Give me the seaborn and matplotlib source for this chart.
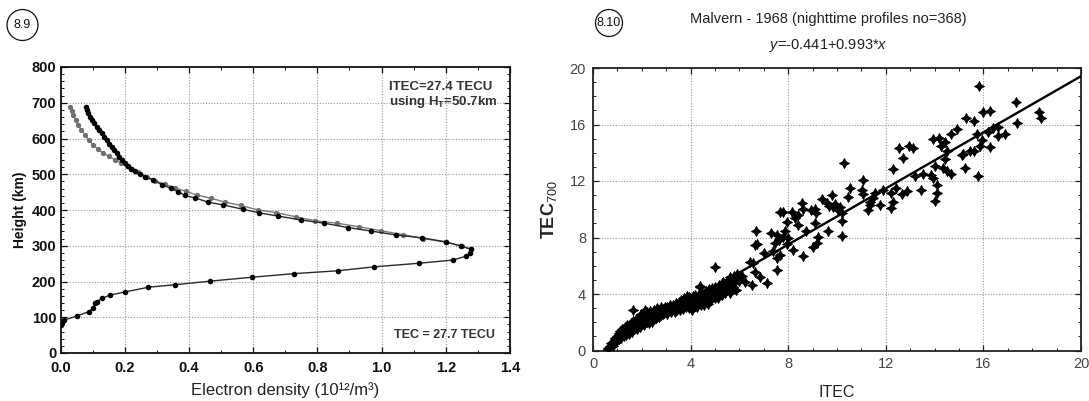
import matplotlib
matplotlib.use("Agg")
import matplotlib.pyplot as plt
from matplotlib.patches import Ellipse
from matplotlib.ticker import MultipleLocator
import seaborn as sns
import pandas as pd

# ---------------- data: left panel (electron density profiles) ----------------
black_height = [78, 84, 92, 103, 116, 125, 139, 144, 153, 162, 171, 184, 191, 201, 212, 222,
                230, 241, 251, 260, 271, 281, 290, 299, 311, 322, 330, 341, 351, 363, 372, 383,
                392, 402, 414, 422, 434, 441, 451, 461, 471, 484, 493, 501, 509, 516, 524, 532,
                540, 549, 559, 568, 577, 586, 596, 605, 614, 623, 633, 642, 652, 661, 670, 680, 689]
black_density = [0.000, 0.004, 0.011, 0.050, 0.089, 0.100, 0.107, 0.113, 0.130, 0.154, 0.202,
                 0.274, 0.358, 0.466, 0.597, 0.727, 0.864, 0.976, 1.116, 1.222, 1.264, 1.276,
                 1.279, 1.248, 1.200, 1.127, 1.046, 0.968, 0.895, 0.822, 0.750, 0.678, 0.619,
                 0.569, 0.507, 0.460, 0.418, 0.387, 0.367, 0.343, 0.315, 0.289, 0.263, 0.247,
                 0.232, 0.221, 0.211, 0.200, 0.190, 0.182, 0.175, 0.167, 0.159, 0.151, 0.144,
                 0.136, 0.128, 0.120, 0.113, 0.105, 0.097, 0.092, 0.087, 0.082, 0.078]

gray_height = [290, 299, 310, 320, 331, 342, 353, 363, 370, 381, 393, 400, 413, 422, 433, 442,
               452, 462, 472, 482, 493, 507, 516, 524, 532, 540, 550, 559, 570, 582, 596, 610,
               624, 638, 652, 666, 678, 689]
gray_density = [1.279, 1.250, 1.200, 1.130, 1.067, 0.998, 0.930, 0.861, 0.794, 0.733, 0.671,
                0.615, 0.561, 0.512, 0.468, 0.424, 0.390, 0.357, 0.325, 0.295, 0.268, 0.242,
                0.224, 0.206, 0.188, 0.170, 0.151, 0.133, 0.117, 0.102, 0.088, 0.076, 0.065,
                0.055, 0.047, 0.040, 0.035, 0.030]

# ---------------- data: right panel (TEC700 vs ITEC) ----------------
itec = [
    # high values
    15.83, 17.34, 15.97, 16.27, 18.29, 18.35, 17.36, 15.29, 15.60, 14.90, 14.66, 16.40, 16.58,
    16.20, 16.58, 16.90, 15.75, 15.95, 16.27, 15.86, 15.63, 15.45, 15.18, 15.11, 15.26, 15.79,
    13.92, 14.20, 14.43, 14.25, 14.49, 14.43, 14.00, 14.35, 14.49, 14.66, 13.87, 13.94, 14.08,
    14.08, 14.00, 13.43, 12.55, 12.96, 13.10, 12.72, 12.31, 13.20, 13.52, 12.86, 12.42, 12.20,
    12.65, 12.20, 12.28, 11.87, 11.76, 11.49, 11.35, 11.29, 11.08, 11.01, 11.08, 10.53, 10.46,
    10.29, 9.69, 10.12, 10.19, 10.19, 11.35, 11.56, 10.20, 10.05, 9.85,
    # middle values
    9.78, 9.37, 9.58, 9.92, 9.10, 8.55, 8.62, 7.66, 7.80, 8.14, 8.42, 8.28, 8.92, 9.14, 7.96,
    8.42, 8.73, 9.10, 9.65, 6.68, 7.28, 7.53, 7.87, 7.80, 8.00, 7.64, 6.64, 6.71, 9.23, 9.00,
    9.17, 8.59, 7.37, 7.56, 7.66, 7.53, 7.12, 6.55, 6.64, 6.44, 6.09, 6.23, 6.50, 6.85, 5.00,
    4.39, 5.61, 5.89, 5.34, 5.75, 7.00, 8.21, 7.94, 7.46,
    # dense low values
    0.62, 0.70, 0.75, 0.80, 0.85, 0.88, 0.92, 0.95, 0.98, 1.00,
    1.02, 1.05, 1.08, 1.10, 1.12, 1.15, 1.18, 1.20, 1.22, 1.25, 1.28, 1.30, 1.32, 1.35, 1.38,
    1.40, 1.42, 1.45, 1.48, 1.50,
    1.52, 1.55, 1.58, 1.60, 1.62, 1.65, 1.68, 1.70, 1.72, 1.75, 1.78, 1.80, 1.82, 1.85, 1.88,
    1.90, 1.92, 1.95, 1.98, 2.00,
    2.02, 2.05, 2.08, 2.10, 2.12, 2.15, 2.18, 2.20, 2.22, 2.25, 2.28, 2.30, 2.32, 2.35, 2.38,
    2.40, 2.42, 2.45, 2.48, 2.50,
    2.52, 2.55, 2.58, 2.60, 2.62, 2.65, 2.68, 2.70, 2.72, 2.75, 2.78, 2.80, 2.82, 2.85, 2.88,
    2.90, 2.92, 2.95, 2.98, 3.00,
    3.02, 3.05, 3.08, 3.10, 3.15, 3.18, 3.20, 3.25, 3.28, 3.30, 3.35, 3.38, 3.40, 3.42, 3.45,
    3.48, 3.50,
    3.52, 3.55, 3.58, 3.60, 3.62, 3.65, 3.68, 3.70, 3.72, 3.75, 3.78, 3.80, 3.82, 3.85, 3.88,
    3.90, 3.92, 3.95, 3.98, 4.00,
    4.02, 4.05, 4.08, 4.10, 4.12, 4.15, 4.18, 4.20, 4.25, 4.28, 4.30, 4.35, 4.38, 4.40, 4.42,
    4.45, 4.48, 4.50,
    4.52, 4.55, 4.60, 4.62, 4.65, 4.70, 4.72, 4.75, 4.78, 4.80, 4.85, 4.88, 4.90, 4.95, 4.98,
    5.02, 5.05, 5.10, 5.12, 5.15, 5.20, 5.25, 5.28, 5.30, 5.35, 5.40, 5.45, 5.50, 5.52, 5.58,
    5.62, 5.68, 5.72, 5.78, 5.82, 5.88, 5.92, 5.98, 4.37, 3.95, 1.65,
]
tec700 = [
    18.73, 17.58, 16.87, 16.94, 16.91, 16.49, 16.09, 16.49, 16.28, 15.66, 15.33, 15.73, 15.85,
    15.50, 15.21, 15.33, 15.33, 14.90, 14.39, 14.48, 14.13, 14.09, 13.93, 13.81, 12.90, 12.36,
    14.96, 15.02, 14.79, 14.51, 14.15, 13.54, 13.09, 12.90, 12.73, 12.49, 12.42, 12.19, 11.71,
    11.12, 10.61, 11.36, 14.36, 14.48, 14.31, 13.61, 12.82, 12.36, 12.49, 11.32, 11.49, 11.18,
    11.09, 10.07, 10.54, 11.36, 10.30, 10.77, 10.54, 9.95, 12.07, 11.36, 11.09, 11.49, 10.90,
    13.30, 10.24, 10.19, 9.19, 8.13, 10.30, 11.12, 9.72, 9.95, 10.15,
    11.01, 10.71, 10.42, 10.37, 10.00, 10.42, 10.00, 9.83, 9.83, 9.83, 9.60, 9.36, 9.95, 9.72,
    9.12, 8.89, 8.49, 9.00, 8.49, 8.49, 8.30, 8.16, 8.49, 8.02, 7.95, 7.83, 7.47, 7.54, 8.06,
    7.35, 7.59, 6.69, 7.05, 6.53, 6.76, 5.70, 4.80, 6.17, 5.58, 6.29, 5.27, 4.87, 4.64, 5.20,
    5.89, 4.52, 5.23, 5.34, 4.87, 4.80, 6.88, 7.12, 7.54, 7.63,
    0.15, 0.30, 0.55, 0.35, 0.70, 0.50, 0.85, 0.60, 1.05, 0.75,
    0.95, 1.25, 0.80, 1.40, 1.05, 0.90, 1.30, 1.55, 1.15, 1.00, 1.45, 1.25, 1.65, 1.10, 1.40,
    1.80, 1.30, 1.55, 1.20, 1.70,
    1.45, 1.95, 1.60, 1.30, 2.10, 1.75, 1.50, 2.00, 1.65, 2.25, 1.85, 1.55, 2.05, 1.75, 2.35,
    1.95, 1.65, 2.15, 2.55, 1.85,
    2.30, 2.05, 1.80, 2.60, 2.20, 2.85, 2.40, 2.00, 2.70, 2.25, 1.95, 2.50, 2.80, 2.15, 2.60,
    2.35, 2.05, 2.75, 2.45, 2.20,
    2.90, 2.55, 2.30, 2.75, 3.00, 2.45, 2.65, 2.35, 2.85, 2.60, 3.05, 2.50, 2.75, 2.95, 2.55,
    2.80, 2.65, 3.10, 2.70, 2.90,
    2.60, 3.05, 2.80, 2.95, 3.20, 2.70, 3.00, 2.85, 3.25, 2.95, 3.10, 2.75, 3.35, 3.05, 2.90,
    3.20, 3.00,
    3.40, 3.10, 2.85, 3.30, 3.55, 3.15, 2.95, 3.40, 3.70, 3.20, 3.50, 3.05, 3.35, 3.85, 3.25,
    3.55, 3.00, 3.40, 3.70, 3.20,
    3.60, 2.90, 3.40, 3.85, 3.15, 3.55, 3.95, 3.30, 3.70, 3.10, 3.50, 4.00, 3.35, 3.75, 3.20,
    3.60, 4.10, 3.40,
    3.90, 3.25, 3.70, 4.20, 3.50, 3.95, 3.30, 4.35, 3.75, 4.10, 3.55, 4.40, 3.90, 4.20, 3.70,
    4.50, 4.00, 4.30, 3.75, 4.65, 4.15, 4.45, 3.90, 4.75, 4.30, 4.05, 4.60, 4.90, 4.35, 4.70,
    4.10, 5.00, 4.50, 5.25, 4.85, 4.30, 5.40, 4.95, 4.59, 3.81, 2.87,
]
fit_intercept = -0.441
fit_slope = 0.993

left_xticks = [0.0, 0.2, 0.4, 0.6, 0.8, 1.0, 1.2, 1.4]
left_yticks = [0, 100, 200, 300, 400, 500, 600, 700, 800]
right_ticks = [0, 4, 8, 12, 16, 20]

# ---------------- style ----------------
sns.set_theme(style="white")
plt.rcParams["font.family"] = ["Liberation Sans", "DejaVu Sans"]
plt.rcParams["mathtext.fontset"] = "custom"
plt.rcParams["mathtext.rm"] = "Liberation Sans"
plt.rcParams["mathtext.it"] = "Liberation Sans:italic"
plt.rcParams["mathtext.bf"] = "Liberation Sans:bold"

W, H = 1089, 401
fig = plt.figure(figsize=(W / 100, H / 100), dpi=100)
fig.patch.set_facecolor("white")

ax1 = fig.add_axes([60.5 / W, 1 - 353 / H, (510 - 60.5) / W, (353 - 67) / H])
ax2 = fig.add_axes([593 / W, 1 - 350.5 / H, (1081 - 593) / W, (350.5 - 68) / H])

grid_kw = dict(linestyle=(0, (1, 1.5)), color="#9a9a9a", linewidth=0.8)

# ---------------- left panel ----------------
df_gray = pd.DataFrame({"ne": gray_density, "h": gray_height})
df_black = pd.DataFrame({"ne": black_density, "h": black_height})
sns.lineplot(data=df_gray, x="ne", y="h", sort=False, estimator=None, ax=ax1,
             color="#7a7a7a", linewidth=1.0, marker="o", markersize=3.8,
             markeredgewidth=0, markerfacecolor="#707070", zorder=3)
sns.lineplot(data=df_black, x="ne", y="h", sort=False, estimator=None, ax=ax1,
             color="#2a2a2a", linewidth=1.0, marker="o", markersize=4.0,
             markeredgewidth=0, markerfacecolor="#000000", zorder=4)
ax1.set_xlim(0, 1.4)
ax1.set_ylim(0, 800)
ax1.set_xticks(left_xticks)
ax1.set_yticks(left_yticks)
ax1.set_xticklabels([f"{v:.1f}" for v in left_xticks])
ax1.set_yticklabels([str(v) for v in left_yticks])
ax1.xaxis.set_minor_locator(MultipleLocator(0.1))
ax1.yaxis.set_minor_locator(MultipleLocator(20))
ax1.grid(True, which="major", **grid_kw)
ax1.set_axisbelow(True)
ax1.tick_params(which="both", direction="in", top=True, right=True, bottom=True, left=True,
                colors="#111111", labelcolor="#111111")
ax1.tick_params(which="major", length=4, width=0.9, labelsize=10.5)
ax1.tick_params(axis="x", which="major", pad=6)
ax1.tick_params(axis="y", which="major", pad=3)
ax1.tick_params(which="minor", length=2, width=0.7)
for lab in ax1.get_xticklabels() + ax1.get_yticklabels():
    lab.set_fontweight("bold")
ax1.set_xlabel("Electron density (10\u00b9\u00b2/m\u00b3)", fontsize=12, color="#222222", labelpad=5)
ax1.set_ylabel("Height (km)", fontsize=10, fontweight="bold", color="#111111", labelpad=3)
for sp in ax1.spines.values():
    sp.set_visible(True)
    sp.set_color("#111111")
    sp.set_linewidth(1.3)
ax1.text(1.023, 745, "ITEC=27.4 TECU", fontsize=9.5, fontweight="bold", color="#333333",
         va="center", ha="left")
ax1.text(1.023, 702, "using H$_\\mathregular{T}$=50.7km", fontsize=9.5, fontweight="bold",
         color="#333333", va="center", ha="left")
ax1.text(1.04, 49, "TEC = 27.7 TECU", fontsize=9, fontweight="bold", color="#333333",
         va="center", ha="left")

# ---------------- right panel ----------------
df_sc = pd.DataFrame({"ITEC": itec, "TEC700": tec700})
sns.scatterplot(data=df_sc, x="ITEC", y="TEC700", ax=ax2, marker=(4, 1, 0), s=52,
                color="#000000", edgecolor="#000000", linewidth=0.6, zorder=3)
ax2.axline((0, fit_intercept), slope=fit_slope, color="#000000", linewidth=1.7, zorder=4)
ax2.set_xlim(0, 20)
ax2.set_ylim(0, 20)
ax2.set_xticks(right_ticks)
ax2.set_yticks(right_ticks)
ax2.xaxis.set_minor_locator(MultipleLocator(1))
ax2.yaxis.set_minor_locator(MultipleLocator(1))
ax2.grid(True, which="major", **grid_kw)
ax2.set_axisbelow(True)
ax2.tick_params(which="both", direction="in", top=True, right=True, bottom=True, left=True,
                colors="#222222", labelcolor="#444444")
ax2.tick_params(which="major", length=4, width=0.9, labelsize=10.5, pad=5)
ax2.tick_params(which="minor", length=2, width=0.7)
ax2.set_xlabel("ITEC", fontsize=11.5, color="#222222", labelpad=10)
ax2.set_ylabel("TEC$_{700}$", fontsize=13, fontweight="bold", color="#222222", labelpad=8)
for sp in ax2.spines.values():
    sp.set_visible(True)
    sp.set_color("#222222")
    sp.set_linewidth(1.3)
ax2.set_title("Malvern - 1968 (nighttime profiles no=368)\n$y$=-0.441+0.993*$x$",
              fontsize=10.5, color="#222222", pad=14, linespacing=1.9, x=0.482)

# ---------------- circled panel numbers ----------------
for cx, cy, txt, d in [(22.5, 25, "8.9", 31), (609, 23, "8.10", 27)]:
    fig.add_artist(Ellipse((cx / W, 1 - cy / H), d / W, d / H, transform=fig.transFigure,
                           fill=False, edgecolor="#111111", linewidth=0.9))
    fig.text(cx / W, 1 - cy / H, txt, ha="center", va="center", fontsize=9, color="#111111")

fig.savefig("out.png", dpi=100, facecolor="white")
